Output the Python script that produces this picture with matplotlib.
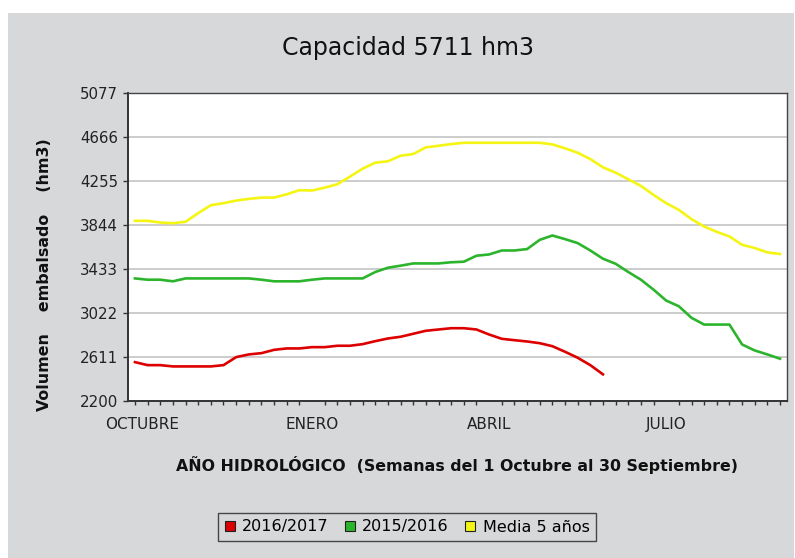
import matplotlib
matplotlib.use("Agg")
import matplotlib.pyplot as plt
from matplotlib.patches import Rectangle
from matplotlib.lines import Line2D
import numpy as np

# ---------------- data ----------------
weeks = list(range(52))
serie_2016_2017 = [2563, 2535, 2535, 2523, 2523, 2523, 2523, 2535, 2610, 2635,
                   2647, 2678, 2691, 2691, 2703, 2703, 2716, 2716, 2731, 2759,
                   2784, 2800, 2828, 2856, 2868, 2880, 2880, 2868, 2821, 2781,
                   2768, 2756, 2740, 2712, 2660, 2604, 2535, 2449]
serie_2015_2016 = [3345, 3333, 3333, 3318, 3345, 3345, 3345, 3345, 3345, 3345,
                   3333, 3318, 3318, 3318, 3333, 3345, 3345, 3345, 3345, 3405,
                   3445, 3464, 3485, 3485, 3485, 3496, 3501, 3557, 3569, 3606,
                   3606, 3619, 3705, 3746, 3712, 3675, 3606, 3529, 3482, 3405,
                   3333, 3240, 3138, 3085, 2977, 2914, 2914, 2914, 2728, 2672,
                   2635, 2595]
serie_media5 = [3883, 3883, 3867, 3861, 3874, 3955, 4029, 4048, 4072, 4088,
                4100, 4100, 4131, 4169, 4166, 4193, 4225, 4296, 4370, 4426,
                4439, 4491, 4507, 4569, 4584, 4600, 4612, 4612, 4612, 4612,
                4612, 4612, 4612, 4597, 4560, 4519, 4460, 4383, 4333, 4271,
                4209, 4125, 4048, 3985, 3899, 3830, 3780, 3737, 3659, 3629,
                3588, 3573]
series_labels = ["2016/2017", "2015/2016", "Media 5 años"]
y_ticks = [2200, 2611, 3022, 3433, 3844, 4255, 4666, 5077]
month_labels = ["OCTUBRE", "ENERO", "ABRIL", "JULIO"]
month_pos = [0.6, 14, 28, 42]

# ---------------- styling ----------------
BG = "#d7d8da"
colors = ["#dd0000", "#2cb52c", "#f5f514"]

W, H = 795, 558
fig = plt.figure(figsize=(W / 100, H / 100), dpi=100, facecolor="white")
fig.patches.append(Rectangle((8 / W, 0), 1 - 8 / W - 1 / W, 1 - 13 / H,
                             transform=fig.transFigure, facecolor=BG,
                             edgecolor="none", zorder=-10))

ax = fig.add_axes([128 / W, 1 - 401 / H, (787 - 128) / W, (401 - 93) / H])
ax.set_facecolor("white")

ax.plot(weeks[:len(serie_media5)], serie_media5, color=colors[2], lw=1.9,
        solid_joinstyle="round", zorder=3)
ax.plot(weeks[:len(serie_2015_2016)], serie_2015_2016, color=colors[1], lw=1.9,
        solid_joinstyle="round", zorder=4)
ax.plot(weeks[:len(serie_2016_2017)], serie_2016_2017, color=colors[0], lw=1.9,
        solid_joinstyle="round", zorder=5)

ax.set_ylim(y_ticks[0], y_ticks[-1])
ax.set_xlim(-0.55, 51.55)
ax.set_yticks(y_ticks)
ax.set_yticklabels([str(v) for v in y_ticks], fontsize=10.8, color="#222222")
ax.yaxis.grid(True, color="#c4c4c4", lw=1.2)
ax.set_axisbelow(True)
ax.tick_params(axis="y", direction="out", length=3.6, width=1.0, pad=3.5,
               color="#333333")

ax.set_xticks(month_pos)
ax.set_xticklabels(month_labels, fontsize=11, color="#222222")
ax.set_xticks(weeks, minor=True)
ax.tick_params(axis="x", which="major", length=0, pad=11.5)
ax.tick_params(axis="x", which="minor", direction="out", length=3.2,
               width=1.0, color="#333333")

for side in ["left", "bottom"]:
    ax.spines[side].set_color("#333333")
    ax.spines[side].set_linewidth(1.4)
for side in ["top", "right"]:
    ax.spines[side].set_color("#444444")
    ax.spines[side].set_linewidth(1.0)

fig.text(408 / W, 1 - 48 / H, "Capacidad 5711 hm3", fontsize=17,
         ha="center", va="center", color="#111111")
fig.text(45 / W, 1 - 275 / H, "Volumen    embalsado    (hm3)", fontsize=11.4,
         fontweight="bold", rotation=90, ha="center", va="center",
         color="#111111")
fig.text(457 / W, 1 - 465 / H,
         "AÑO HIDROLÓGICO  (Semanas del 1 Octubre al 30 Septiembre)",
         fontsize=11.4, fontweight="bold", ha="center", va="center",
         color="#111111")

handles = [Line2D([], [], marker="s", linestyle="none", markersize=7.2,
                  markerfacecolor=c, markeredgecolor="#222222",
                  markeredgewidth=0.8) for c in colors]
leg = fig.legend(handles, series_labels, loc="center",
                 bbox_to_anchor=(407 / W, 1 - 527 / H), ncol=3,
                 fontsize=11.5, frameon=True, fancybox=False,
                 handlelength=0.65, handletextpad=0.45, columnspacing=1.0,
                 borderpad=0.4, edgecolor="#222222", facecolor=BG)
leg.get_frame().set_linewidth(1.0)

fig.savefig("out.png", dpi=100, facecolor="white")
